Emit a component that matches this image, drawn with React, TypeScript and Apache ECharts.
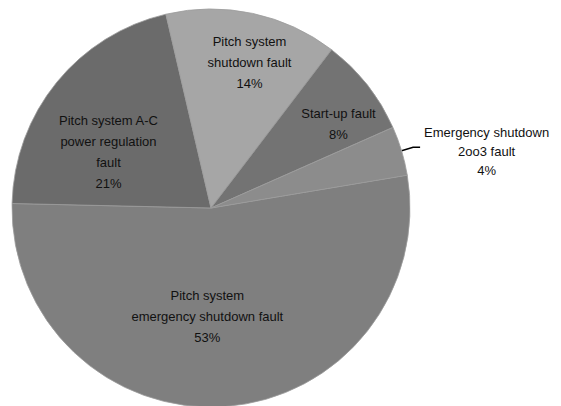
import React, { useEffect, useRef } from "react";
import * as echarts from "echarts";

const categories = [
  "Pitch system\nemergency shutdown fault",
  "Pitch system A-C\npower regulation\nfault",
  "Pitch system\nshutdown fault",
  "Start-up fault",
  "Emergency shutdown\n2oo3 fault",
];
const values = [53, 21, 14, 8, 4];
const colors = ["#7f7f7f", "#6b6b6b", "#a6a6a6", "#737373", "#8c8c8c"];
const labelShift = [
  [-11, 6],
  [-23, 9],
  [17, -45],
  [47, -20],
  [0, -14],
];

export default function App() {
  const ref = useRef<HTMLDivElement>(null);
  useEffect(() => {
    if (!ref.current) return;
    const chart = echarts.init(ref.current, null, { renderer: "svg" });
    const font = "'Liberation Sans', Arial, sans-serif";
    chart.setOption({
      animation: false,
      series: [
        {
          type: "pie",
          center: [211, 208],
          radius: 199,
          startAngle: 9.5,
          clockwise: true,
          avoidLabelOverlap: false,
          itemStyle: { borderColor: "#9c9c9c", borderWidth: 0.8 },
          label: {
            position: "inside",
            color: "#111",
            fontFamily: font,
            fontSize: 13,
            lineHeight: 21,
            align: "center",
            formatter: (p: any) => `${p.name}\n${Math.round(p.percent)}%`,
          },
          labelLine: { show: false },
          labelLayout: (p: any) => ({
            dx: labelShift[p.dataIndex][0],
            dy: labelShift[p.dataIndex][1],
          }),
          data: values.map((v, i) => {
            const item: any = {
              name: categories[i],
              value: v,
              itemStyle: { color: colors[i] },
            };
            if (i === 4) {
              item.label = {
                position: "outside",
                distanceToLabelLine: 4,
                padding: [36, 0, 0, 0],
                formatter: (p: any) =>
                  p.name
                    .split("\n")
                    .concat([`${Math.round(p.percent)}%`])
                    .map((s: string) => `{c|${s}}`)
                    .join("\n"),
                rich: {
                  c: {
                    align: "center",
                    fontFamily: font,
                    fontSize: 13,
                    lineHeight: 19,
                    color: "#111",
                  },
                },
              };
              item.labelLine = {
                show: true,
                length: 12,
                length2: 7,
                lineStyle: { color: "#000", width: 1.5 },
              };
            }
            return item;
          }),
        },
      ],
    });
    return () => chart.dispose();
  }, []);
  return (
    <div
      ref={ref}
      style={{ position: "fixed", left: 0, top: 0, width: 561, height: 406, background: "#fff" }}
    />
  );
}
